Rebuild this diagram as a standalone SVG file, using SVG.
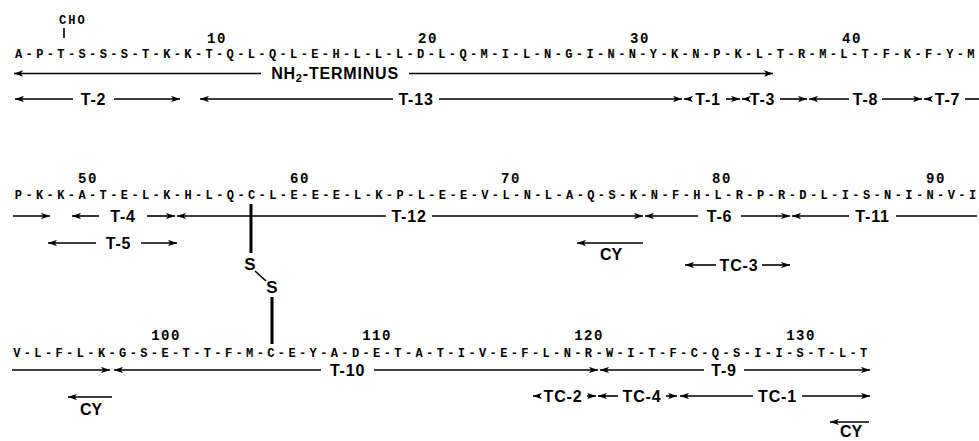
<svg xmlns="http://www.w3.org/2000/svg" width="979" height="441" viewBox="0 0 979 441">
<defs>
<style>
.seq{font-family:"Liberation Mono","DejaVu Sans Mono",monospace;font-weight:bold;font-size:12px;fill:#000}
.num{font-family:"Liberation Mono","DejaVu Sans Mono",monospace;font-weight:bold;font-size:14px;fill:#000;text-anchor:middle;letter-spacing:1.5px}
.lab{font-family:"Liberation Sans",Arial,sans-serif;font-weight:bold;font-size:16px;fill:#000;text-anchor:middle;letter-spacing:0.8px}
.cy{font-family:"Liberation Sans",Arial,sans-serif;font-weight:bold;font-size:16px;fill:#000;text-anchor:middle}
.ss{font-family:"Liberation Sans",Arial,sans-serif;font-weight:bold;font-size:17px;fill:#000;text-anchor:middle}
.ln{stroke:#000;stroke-width:1.6;fill:none}
.l{marker-start:url(#ah)}
.r{marker-end:url(#ah)}
.bond{stroke:#000;stroke-width:3;fill:none}
</style>
<marker id="ah" viewBox="0 0 10 7" refX="10" refY="3.5" markerWidth="9" markerHeight="6.5" markerUnits="userSpaceOnUse" orient="auto-start-reverse">
<path d="M0,0 L10,3.5 L0,7 L2.5,3.5 z" fill="#000"/>
</marker>
</defs>
<rect width="979" height="441" fill="#fff"/>

<g id="row1">
<text class="seq" x="15" y="57.5" letter-spacing="3.38">A-P-T-S-S-S-T-K-K-T-Q-L-Q-L-E-H-L-L-L-D-L-Q-M-I-L-N-G-I-N-N-Y-K-N-P-K-L-T-R-M-L-T-F-K-F-Y-M</text>
<text class="num" x="217" y="43">10</text>
<text class="num" x="428" y="43">20</text>
<text class="num" x="640" y="43">30</text>
<text class="num" x="852" y="43">40</text>
<g id="cho">
<text class="seq" x="59" y="24" font-size="13" letter-spacing="2">CHO</text>
<line class="ln" x1="64" y1="28" x2="64" y2="38"/>
</g>
</g>

<g id="row2">
<text class="seq" x="14.8" y="199" letter-spacing="3.4">P-K-K-A-T-E-L-K-H-L-Q-C-L-E-E-E-L-K-P-L-E-E-V-L-N-L-A-Q-S-K-N-F-H-L-R-P-R-D-L-I-S-N-I-N-V-I</text>
<text class="num" x="88" y="183">50</text>
<text class="num" x="300" y="183">60</text>
<text class="num" x="511" y="183">70</text>
<text class="num" x="722" y="183">80</text>
<text class="num" x="936" y="183">90</text>
</g>

<g id="row3">
<text class="seq" x="13.2" y="357" letter-spacing="3.385">V-L-F-L-K-G-S-E-T-T-F-M-C-E-Y-A-D-E-T-A-T-I-V-E-F-L-N-R-W-I-T-F-C-Q-S-I-I-S-T-L-T</text>
<text class="num" x="166" y="340">100</text>
<text class="num" x="377" y="340">110</text>
<text class="num" x="589" y="340">120</text>
<text class="num" x="801" y="340">130</text>
</g>

<g id="disulfide">
<line class="bond" x1="251" y1="204" x2="251" y2="253"/>
<text class="ss" x="250" y="270">S</text>
<line class="ln" x1="255" y1="271" x2="266" y2="281" stroke-width="2.5"/>
<text class="ss" x="272" y="293">S</text>
<line class="bond" x1="272" y1="297" x2="272" y2="344"/>
</g>

<g id="labels">
<text class="lab" x="335" y="79" letter-spacing="1.8">NH<tspan font-size="11" dy="3">2</tspan><tspan dy="-3">-TERMINUS</tspan></text>
<text class="lab" x="93.5" y="105">T-2</text>
<text class="lab" x="416" y="105">T-13</text>
<text class="lab" x="708" y="105">T-1</text>
<text class="lab" x="762.5" y="105">T-3</text>
<text class="lab" x="865.5" y="105">T-8</text>
<text class="lab" x="947.5" y="105">T-7</text>
<text class="lab" x="123" y="222">T-4</text>
<text class="lab" x="409" y="222">T-12</text>
<text class="lab" x="719.5" y="222">T-6</text>
<text class="lab" x="872.5" y="222">T-11</text>
<text class="lab" x="118.5" y="249">T-5</text>
<text class="cy" x="611" y="260">CY</text>
<text class="lab" x="739" y="271">TC-3</text>
<text class="lab" x="347.5" y="376">T-10</text>
<text class="lab" x="724" y="376">T-9</text>
<text class="lab" x="563" y="402">TC-2</text>
<text class="lab" x="642" y="402">TC-4</text>
<text class="lab" x="777.5" y="402">TC-1</text>
<text class="cy" x="91" y="415">CY</text>
<text class="cy" x="851" y="437">CY</text>
</g>

<g id="connectors">
<line class="ln l" x1="14" y1="73.5" x2="261" y2="73.5"/>
<line class="ln r" x1="409" y1="73.5" x2="773" y2="73.5"/>
<line class="ln l" x1="15" y1="99" x2="73" y2="99"/>
<line class="ln r" x1="114" y1="99" x2="180" y2="99"/>
<line class="ln l" x1="200" y1="99" x2="393" y2="99"/>
<line class="ln r" x1="439" y1="99" x2="682" y2="99"/>
<line class="ln l" x1="684" y1="99" x2="691" y2="99"/>
<line class="ln r" x1="726" y1="99" x2="740" y2="99"/>
<line class="ln l" x1="742" y1="99" x2="746" y2="99"/>
<line class="ln r" x1="780" y1="99" x2="807" y2="99"/>
<line class="ln l" x1="809" y1="99" x2="849" y2="99"/>
<line class="ln r" x1="882" y1="99" x2="922" y2="99"/>
<line class="ln l" x1="924" y1="99" x2="931" y2="99"/>
<line class="ln" x1="965" y1="99" x2="979" y2="99"/>

<line class="ln r" x1="13" y1="216" x2="50" y2="216"/>
<line class="ln l" x1="72" y1="216" x2="99" y2="216"/>
<line class="ln r" x1="147" y1="216" x2="175" y2="216"/>
<line class="ln l" x1="177" y1="216" x2="386" y2="216"/>
<line class="ln r" x1="432" y1="216" x2="643" y2="216"/>
<line class="ln l" x1="645" y1="216" x2="698" y2="216"/>
<line class="ln r" x1="741" y1="216" x2="790" y2="216"/>
<line class="ln l" x1="792" y1="216" x2="849" y2="216"/>
<line class="ln" x1="896" y1="216" x2="977" y2="216"/>
<line class="ln l" x1="48" y1="243" x2="96" y2="243"/>
<line class="ln r" x1="141" y1="243" x2="177" y2="243"/>
<line class="ln l" x1="577" y1="243" x2="643" y2="243"/>
<line class="ln l" x1="685" y1="265" x2="716" y2="265"/>
<line class="ln r" x1="762" y1="265" x2="790" y2="265"/>

<line class="ln r" x1="12" y1="370" x2="110" y2="370"/>
<line class="ln l" x1="114" y1="370" x2="321" y2="370"/>
<line class="ln r" x1="374" y1="370" x2="598" y2="370"/>
<line class="ln l" x1="600" y1="370" x2="704" y2="370"/>
<line class="ln r" x1="744" y1="370" x2="870" y2="370"/>
<line class="ln l" x1="533" y1="396" x2="539" y2="396"/>
<line class="ln r" x1="587" y1="396" x2="596" y2="396"/>
<line class="ln l" x1="598" y1="396" x2="618" y2="396"/>
<line class="ln r" x1="666" y1="396" x2="677" y2="396"/>
<line class="ln l" x1="680" y1="396" x2="753" y2="396"/>
<line class="ln r" x1="802" y1="396" x2="870" y2="396"/>
<line class="ln l" x1="68" y1="397" x2="112" y2="397"/>
<line class="ln l" x1="830" y1="422" x2="869" y2="422"/>
</g>
</svg>
